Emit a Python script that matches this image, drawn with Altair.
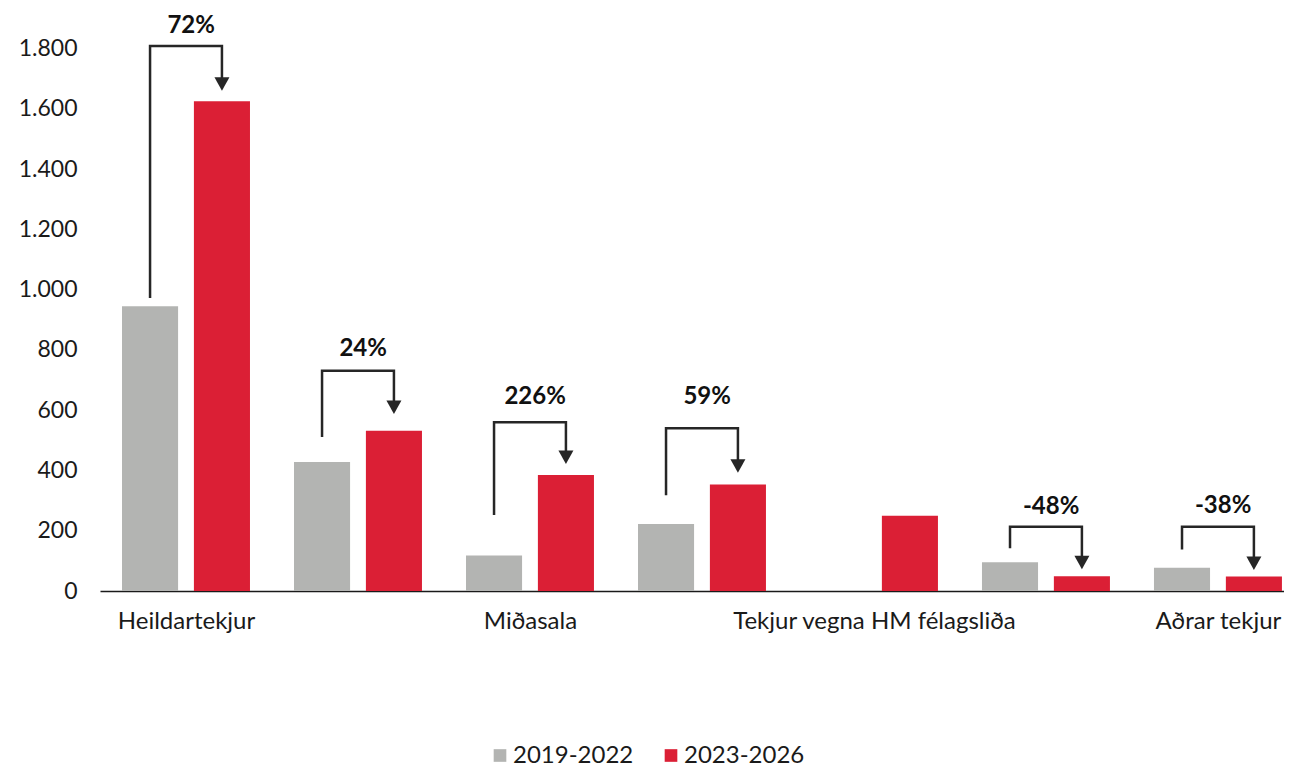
import altair as alt
import pandas as pd

# ---------------- data ----------------
categories = ["Heildartekjur", "Sjónvarpsréttindi", "Miðasala", "Markaðsréttindi",
              "Tekjur vegna HM félagsliða", "Leyfisréttindi", "Aðrar tekjur"]
shown_labels = ["Heildartekjur", "Miðasala", "Tekjur vegna HM félagsliða", "Aðrar tekjur"]
series = ["2019-2022", "2023-2026"]
values_2019_2022 = [945, 428, 118, 222, 0, 95, 77]
values_2023_2026 = [1625, 532, 385, 353, 250, 49, 48]

change_categories = ["Heildartekjur", "Sjónvarpsréttindi", "Miðasala", "Markaðsréttindi",
                     "Leyfisréttindi", "Aðrar tekjur"]
change_labels = ["72%", "24%", "226%", "59%", "-48%", "-38%"]
bracket_start = [972, 511, 252, 318, 142, 138]
bracket_top = [1808, 731, 560, 540, 213, 213]
arrow_tip = [1660, 587, 421, 392, 72, 70]
label_level = [1876, 803, 644, 644, 280, 282]

y_ticks = [0, 200, 400, 600, 800, 1000, 1200, 1400, 1600, 1800]

# ---------------- styling ----------------
FONT = "Lato"
GRAY = "#B3B4B2"
RED = "#DB1F35"
INK = "#262626"
OFF = 0.209    # bar centre offset from category centre (category units)
HALF = 0.163   # half bar width

bars = []
for i, cat in enumerate(categories):
    idx = i + 1
    for s, vals, off in ((series[0], values_2019_2022, -OFF), (series[1], values_2023_2026, OFF)):
        bars.append({"category": cat, "series": s, "value": vals[i], "base": 0,
                     "x0": idx + off - HALF, "x1": idx + off + HALF})
bars_df = pd.DataFrame(bars)

path_rows, arrow_rows, label_rows = [], [], []
for j, cat in enumerate(change_categories):
    idx = categories.index(cat) + 1
    xl, xr = idx - OFF, idx + OFF
    pts = [(xl, bracket_start[j]), (xl, bracket_top[j]), (xr, bracket_top[j]), (xr, arrow_tip[j] + 30)]
    for k, (x, y) in enumerate(pts):
        path_rows.append({"cat": cat, "order": k, "x": x, "y": y})
    arrow_rows.append({"cat": cat, "x": xr, "y": arrow_tip[j]})
    label_rows.append({"cat": cat, "x": idx + 0.03, "y": label_level[j], "text": change_labels[j]})
path_df = pd.DataFrame(path_rows)
arrow_df = pd.DataFrame(arrow_rows)
label_df = pd.DataFrame(label_rows)

x_label_expr = "[" + ",".join("'" + c + "'" for c in categories) + "][datum.value - 1]"
x_values = [categories.index(c) + 1 for c in shown_labels]

xscale = alt.Scale(domain=[0.5, 7.384], nice=False, zero=False)
yscale = alt.Scale(domain=[0, 1800], nice=False)

x_axis = alt.Axis(values=x_values, labelExpr=x_label_expr, title=None, grid=False,
                  ticks=False, tickSize=0, domain=True, domainColor="#1a1a1a", domainWidth=1.5,
                  labelFont=FONT, labelFontSize=24, labelColor="#1a1a1a", labelPadding=18,
                  labelFlush=False, labelOverlap=False, labelLimit=600)
y_axis = alt.Axis(values=y_ticks, labelExpr="replace(format(datum.value, ','), ',', '.')",
                  title=None, grid=False, ticks=False, tickSize=0, domain=False,
                  labelFont=FONT, labelFontSize=23, labelColor="#1a1a1a", labelPadding=23)

bar_layer = alt.Chart(bars_df).mark_rect().encode(
    x=alt.X("x0:Q", scale=xscale, axis=x_axis),
    x2="x1:Q",
    y=alt.Y("value:Q", scale=yscale, axis=y_axis),
    y2="base:Q",
    color=alt.Color("series:N", scale=alt.Scale(domain=series, range=[GRAY, RED]),
                    legend=alt.Legend(title=None, orient="none", legendX=388, legendY=695,
                                      direction="horizontal", symbolType="square", symbolSize=160,
                                      symbolStrokeWidth=0, labelFont=FONT, labelFontSize=24,
                                      labelColor="#1a1a1a", labelOffset=1, columnPadding=25,
                                      padding=0)),
)

bracket_layer = alt.Chart(path_df).mark_line(color=INK, strokeWidth=2.5, strokeJoin="miter",
                                             strokeCap="butt").encode(
    x=alt.X("x:Q", scale=xscale),
    y=alt.Y("y:Q", scale=yscale),
    detail="cat:N",
    order="order:Q",
)

arrow_layer = alt.Chart(arrow_df).mark_point(shape="M-1,-1.8L1,-1.8L0,0Z", filled=True,
                                             size=225, color=INK, opacity=1).encode(
    x=alt.X("x:Q", scale=xscale),
    y=alt.Y("y:Q", scale=yscale),
)

label_layer = alt.Chart(label_df).mark_text(font=FONT, fontWeight="bold", fontSize=24,
                                            color="#111111", align="center",
                                            baseline="middle").encode(
    x=alt.X("x:Q", scale=xscale),
    y=alt.Y("y:Q", scale=yscale),
    text="text:N",
)

chart = alt.layer(bar_layer, bracket_layer, arrow_layer, label_layer).properties(
    width=1184, height=542.5,
    autosize=alt.AutoSizeParams(type="none"),
    padding={"left": 92, "top": 40.5, "right": 0, "bottom": 177},
).configure(background="white").configure_view(stroke=None)

chart.save("out.html", embed_options={"renderer": "svg", "actions": False})
